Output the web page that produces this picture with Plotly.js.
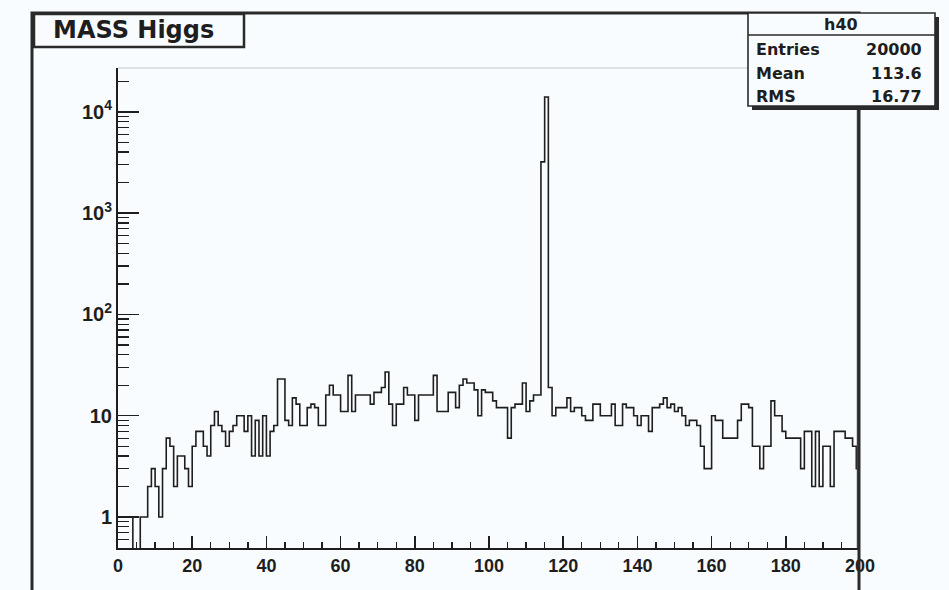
<!DOCTYPE html>
<html>
<head>
<meta charset="utf-8">
<script src="https://cdn.plot.ly/plotly-3.0.1.min.js"></script>
<style>
  html, body { margin: 0; padding: 0; background: #f9fcfe; }
  #chart { width: 949px; height: 590px; }
</style>
</head>
<body>
<div id="chart"></div>
<script>
// Histogram h40: reconstructed Higgs mass, 200 bins of width 1 between 0 and 200.
const histName = "h40";
const histTitle = "MASS Higgs";
const massMin = 0;
const massMax = 200;

// Bin contents, one entry per bin, lowest mass first.
const counts = [
  1, 1, 1, 1, 0, 0, 1, 1, 2, 3,   2, 1, 3, 6, 5, 2, 4, 4, 3, 2,
  5, 7, 7, 5, 4, 8, 11, 8, 7, 5,  7, 8, 10, 10, 7, 10, 4, 9, 4, 10,
  4, 7, 8, 23, 23, 9, 8, 15, 13, 8,   8, 12, 13, 12, 8, 8, 16, 20, 16, 16,
  11, 11, 25, 11, 16, 16, 16, 16, 13, 17,   17, 19, 27, 13, 8, 13, 13, 19, 16, 16,
  9, 16, 16, 16, 16, 25, 11, 11, 11, 17,   17, 12, 20, 23, 21, 21, 18, 10, 18, 17,
  17, 14, 12, 12, 12, 6, 12, 13, 13, 21,   11, 14, 16, 16, 3200, 14000, 19, 10, 12, 12,
  12, 15, 11, 12, 12, 10, 9, 9, 13, 13,   10, 10, 10, 13, 8, 8, 13, 12, 12, 10,
  8, 10, 10, 7, 12, 12, 13, 15, 12, 13,   11, 12, 10, 8, 9, 9, 8, 5, 3, 3,
  10, 9, 9, 6, 6, 6, 6, 9, 13, 13,   12, 5, 5, 3, 5, 5, 14, 10, 10, 7,
  6, 6, 6, 6, 3, 7, 7, 2, 7, 2,   5, 5, 2, 7, 7, 7, 6, 6, 5, 3
];

// Statistics box entries
const statLabels = ["Entries", "Mean", "RMS"];
const statValues = ["20000", "113.6", "16.77"];

// Axis labelling
const xTickVals = [0, 20, 40, 60, 80, 100, 120, 140, 160, 180, 200];
const yTickVals = [1, 10, 100, 1000, 10000];
const yTickText = ["1", "10", "10<sup>2</sup>", "10<sup>3</sup>", "10<sup>4</sup>"];

// ---- drawing ----
const W = 949, H = 590;
const M = { l: 118, r: 89, t: 68, b: 42 };
const plotW = W - M.l - M.r;
const plotH = H - M.t - M.b;
const px = p => (p - M.l) / plotW;          // canvas pixel -> paper x
const py = p => (H - M.b - p) / plotH;      // canvas pixel -> paper y

const nBins = counts.length;
const binW = (massMax - massMin) / nBins;
const yLogRange = [-0.306, 4.432];

// Empty bins have no place on a log scale: send the outline below the frame.
const floorVal = Math.pow(10, yLogRange[0] - 1);
const edges = [];
const levels = [];
for (let i = 0; i <= nBins; i++) {
  edges.push(massMin + i * binW);
  const c = counts[Math.min(i, nBins - 1)];
  levels.push(c > 0 ? c : floorVal);
}

// Minor ticks of the log axis at 2..9 of each decade
const yMinor = [];
for (let k = -1; k <= 4; k++) {
  for (let m = 2; m <= 9; m++) {
    const v = m * Math.pow(10, k);
    const lv = Math.log10(v);
    if (lv > yLogRange[0] && lv < yLogRange[1]) yMinor.push(v);
  }
}

const bg = "#f9fcfe";
const ink = "#1e1e1e";

const trace = {
  type: "scatter",
  mode: "lines",
  x: edges,
  y: levels,
  line: { shape: "hv", color: ink, width: 1.6 },
  hoverinfo: "skip"
};

const tickFontX = { family: "Liberation Sans, Arial, sans-serif", size: 18, color: ink, weight: "bold" };
const tickFontY = { family: "Liberation Sans, Arial, sans-serif", size: 20, color: ink, weight: "bold" };

const shapes = [
  // frame: faint top edge, grey right edge
  { type: "line", xref: "paper", yref: "paper", x0: 0, x1: 1, y0: 1, y1: 1,
    line: { color: "#c4c8cc", width: 1.2 } },
  { type: "line", xref: "paper", yref: "paper", x0: px(858), x1: px(858), y0: 0, y1: 1,
    line: { color: "#555555", width: 2.5 } },
  // pad border
  { type: "rect", xref: "paper", yref: "paper",
    x0: px(32), x1: px(859), y0: py(13), y1: py(610),
    line: { color: "#2a2a2a", width: 3 } },
  // title box
  { type: "rect", xref: "paper", yref: "paper",
    x0: px(34), x1: px(244), y0: py(14), y1: py(47),
    fillcolor: bg, line: { color: "#2a2a2a", width: 2.5 } },
  // statistics box with its shadow
  { type: "rect", xref: "paper", yref: "paper",
    x0: px(752), x1: px(939), y0: py(17), y1: py(110),
    fillcolor: "#2a2a2a", line: { width: 0 } },
  { type: "rect", xref: "paper", yref: "paper",
    x0: px(748), x1: px(935), y0: py(13), y1: py(106),
    fillcolor: bg, line: { color: "#2a2a2a", width: 1.6 } },
  { type: "line", xref: "paper", yref: "paper",
    x0: px(748), x1: px(935), y0: py(35), y1: py(35),
    line: { color: "#2a2a2a", width: 1.6 } }
];

const statFont = { family: "DejaVu Sans, sans-serif", size: 16, color: ink, weight: "bold" };
const annotations = [
  { text: histTitle, xref: "paper", yref: "paper", x: px(133), y: py(30),
    xanchor: "center", yanchor: "middle", showarrow: false,
    font: { family: "DejaVu Sans, sans-serif", size: 24, color: ink, weight: "bold" } },
  { text: histName, xref: "paper", yref: "paper", x: px(841), y: py(24),
    xanchor: "center", yanchor: "middle", showarrow: false, font: statFont }
];
const statRows = [50, 74, 96];
statLabels.forEach((lab, i) => {
  annotations.push({ text: lab, xref: "paper", yref: "paper", x: px(754), y: py(statRows[i]),
    xanchor: "left", yanchor: "middle", showarrow: false, font: statFont });
  annotations.push({ text: statValues[i], xref: "paper", yref: "paper", x: px(924), y: py(statRows[i]),
    xanchor: "right", yanchor: "middle", showarrow: false, font: statFont });
});

const layout = {
  width: W, height: H,
  margin: M,
  paper_bgcolor: bg,
  plot_bgcolor: bg,
  showlegend: false,
  xaxis: {
    range: [massMin, massMax],
    tickmode: "array", tickvals: xTickVals,
    ticks: "inside", ticklen: 12, tickwidth: 1.5, tickcolor: ink,
    minor: { dtick: 5, tick0: 0, ticks: "inside", ticklen: 6, tickwidth: 1.3, tickcolor: ink, showgrid: false },
    showline: true, linecolor: ink, linewidth: 2,
    showgrid: false, zeroline: false,
    tickfont: tickFontX
  },
  yaxis: {
    type: "log",
    range: yLogRange,
    tickmode: "array", tickvals: yTickVals, ticktext: yTickText,
    ticks: "inside", ticklen: 21, tickwidth: 1.5, tickcolor: ink,
    minor: { tickmode: "array", tickvals: yMinor, ticks: "inside", ticklen: 11, tickwidth: 1.3, tickcolor: ink, showgrid: false },
    showline: true, linecolor: ink, linewidth: 2,
    showgrid: false, zeroline: false,
    tickfont: tickFontY
  },
  shapes: shapes,
  annotations: annotations
};

Plotly.newPlot("chart", [trace], layout, { staticPlot: true, displayModeBar: false });
</script>
</body>
</html>
